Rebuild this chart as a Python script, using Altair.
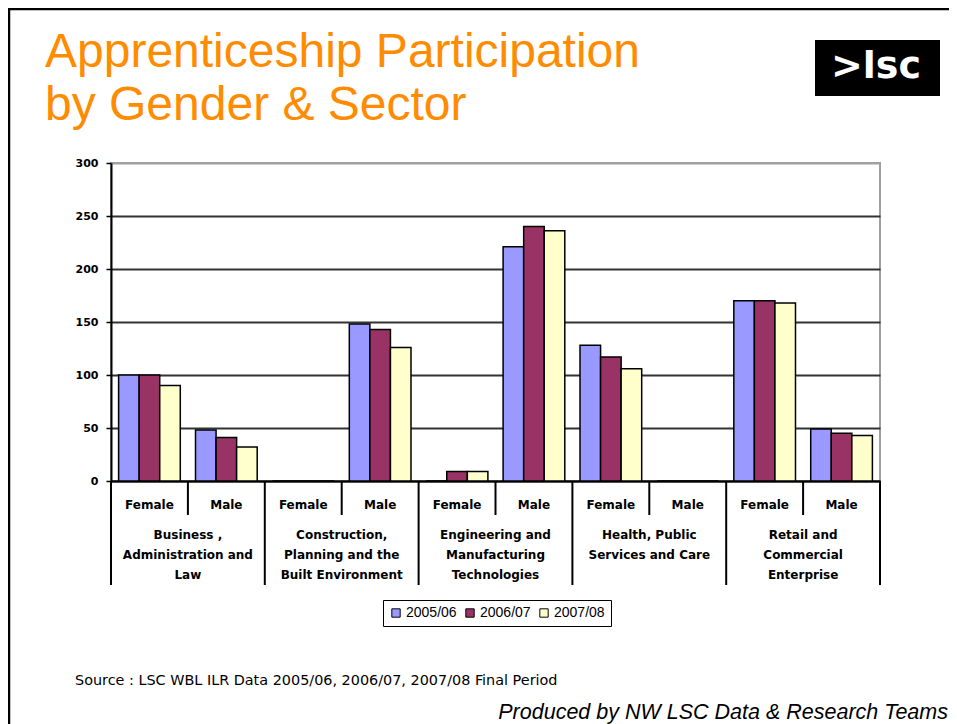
import altair as alt
import pandas as pd

# ---- data ----
sectors = ["Business", "Construction", "Engineering", "Health", "Retail"]
sector_labels = [
    "Business ,\nAdministration and\nLaw",
    "Construction,\nPlanning and the\nBuilt Environment",
    "Engineering and\nManufacturing\nTechnologies",
    "Health, Public\nServices and Care",
    "Retail and\nCommercial\nEnterprise",
]
genders = ["Female", "Male"]
years = ["2005/06", "2006/07", "2007/08"]
colors = ["#9999FF", "#993366", "#FFFFCC"]

# values per slot (sector x gender, in order)
v_2005_06 = [100, 48, 0, 148, 0, 221, 128, 0, 170, 49]
v_2006_07 = [100, 41, 0, 143, 9, 240, 117, 0, 170, 45]
v_2007_08 = [90, 32, 0, 126, 9, 236, 106, 0, 168, 43]

y_ticks = [0, 50, 100, 150, 200, 250, 300]

title_lines = ["Apprenticeship Participation", "by Gender & Sector"]
source_text = "Source : LSC WBL ILR Data 2005/06, 2006/07, 2007/08 Final Period"
credit_text = "Produced by NW LSC Data & Research Teams"
logo_text = ">lsc"

# ---- tables ----
slots = [f"{s}|{g}" for s in sectors for g in genders]
slot_rows = []
for s, lab in zip(sectors, sector_labels):
    for g in genders:
        slot_rows.append({"slot": f"{s}|{g}", "sector": s, "gender": g, "label": lab})
slot_df = pd.DataFrame(slot_rows)

bar_rows = []
for y, vals in zip(years, [v_2005_06, v_2006_07, v_2007_08]):
    for sl, v in zip(slots, vals):
        bar_rows.append({"slot": sl, "year": y, "value": v})
bar_df = pd.DataFrame(bar_rows)

W, H = 769, 318
x_scale = alt.Scale(domain=slots, paddingInner=0, paddingOuter=0)
x_axis = alt.Axis(labels=False, ticks=False, title=None, domainColor="black", domainWidth=2, grid=False)

bars = alt.Chart(bar_df).mark_bar(stroke="black", strokeWidth=1.5).encode(
    x=alt.X("slot:N", scale=x_scale, axis=x_axis, sort=slots),
    xOffset=alt.XOffset("year:N", scale=alt.Scale(domain=years, paddingOuter=0.37, paddingInner=0)),
    y=alt.Y(
        "value:Q",
        scale=alt.Scale(domain=[0, 300], nice=False),
        axis=alt.Axis(
            values=y_ticks,
            title=None,
            domainColor="black",
            domainWidth=2,
            tickColor="black",
            tickWidth=1.5,
            tickSize=5,
            labelPadding=8,
            labelFont="DejaVu Sans",
            labelFontWeight="bold",
            labelFontSize=11,
            labelColor="black",
            gridColor={"condition": {"test": "datum.value == 300", "value": "#A0A0A0"}, "value": "#333333"},
            gridWidth=2,
        ),
    ),
    color=alt.Color(
        "year:N",
        scale=alt.Scale(domain=years, range=colors),
        legend=alt.Legend(
            orient="none",
            legendX=272,
            legendY=437,
            direction="horizontal",
            title=None,
            strokeColor="black",
            fillColor="white",
            padding=6,
            symbolType="square",
            symbolSize=70,
            symbolStrokeColor="black",
            symbolStrokeWidth=1,
            labelFont="Liberation Sans",
            labelFontSize=14,
            labelColor="black",
            columnPadding=6,
            labelOffset=3,
        ),
    ),
)

long_rules = alt.Chart(slot_df).transform_filter(alt.datum.gender == "Female").mark_rule(
    color="black", strokeWidth=2
).encode(
    x=alt.X("slot:N", scale=x_scale, axis=x_axis, bandPosition=0, sort=slots),
    y=alt.value(H),
    y2=alt.value(422),
)
end_rule = alt.Chart(slot_df).transform_filter(alt.datum.slot == slots[-1]).mark_rule(
    color="black", strokeWidth=2
).encode(
    x=alt.X("slot:N", scale=x_scale, axis=x_axis, bandPosition=1, sort=slots),
    y=alt.value(H),
    y2=alt.value(422),
)
short_rules = alt.Chart(slot_df).transform_filter(alt.datum.gender == "Male").mark_rule(
    color="black", strokeWidth=2
).encode(
    x=alt.X("slot:N", scale=x_scale, axis=x_axis, bandPosition=0, sort=slots),
    y=alt.value(H),
    y2=alt.value(352),
)

gender_text = alt.Chart(slot_df).mark_text(
    font="DejaVu Sans", fontWeight="bold", fontSize=12, color="black", baseline="middle", align="center"
).encode(
    x=alt.X("slot:N", scale=x_scale, axis=x_axis, bandPosition=0.5, sort=slots),
    y=alt.value(342),
    text="gender:N",
)

sector_text = alt.Chart(slot_df).transform_filter(alt.datum.gender == "Male").mark_text(
    font="DejaVu Sans", fontWeight="bold", fontSize=12, color="black", baseline="top", align="center",
    lineBreak="\n", lineHeight=20,
).encode(
    x=alt.X("slot:N", scale=x_scale, axis=x_axis, bandPosition=0, sort=slots),
    y=alt.value(367),
    text="label:N",
)


def deco_text(txt, x, y, **kw):
    return alt.Chart(pd.DataFrame({"t": [txt]})).mark_text(**kw).encode(
        text="t:N", x=alt.value(x), y=alt.value(y)
    )


title1 = deco_text(title_lines[0], -66, -96, font="Liberation Sans", fontSize=48, color="#FF8C00",
                   align="left", baseline="alphabetic")
title2 = deco_text(title_lines[1], -66, -43, font="Liberation Sans", fontSize=48, color="#FF8C00",
                   align="left", baseline="alphabetic")

logo_box = alt.Chart(pd.DataFrame({"t": [logo_text]})).mark_rect(color="black").encode(
    x=alt.value(704), x2=alt.value(829), y=alt.value(-123), y2=alt.value(-67)
)
logo = deco_text(logo_text, 765, -85, font="DejaVu Sans", fontWeight="bold", fontSize=38, color="white",
                 align="center", baseline="alphabetic")

source = deco_text(source_text, -36, 522, font="DejaVu Sans", fontSize=14.4, color="black",
                   align="left", baseline="alphabetic")
credit = deco_text(credit_text, 837, 556, font="Liberation Sans", fontStyle="italic", fontSize=21.5,
                   color="black", align="right", baseline="alphabetic")

border_top = alt.Chart(pd.DataFrame({"t": [0]})).mark_rule(color="black", strokeWidth=2.5).encode(
    x=alt.value(-103), x2=alt.value(840), y=alt.value(-154)
)
border_left = alt.Chart(pd.DataFrame({"t": [0]})).mark_rule(color="black", strokeWidth=2.5).encode(
    x=alt.value(-102), y=alt.value(-155), y2=alt.value(570)
)

chart = alt.layer(
    bars, long_rules, end_rule, short_rules, gender_text, sector_text,
    title1, title2, logo_box, logo, source, credit, border_top, border_left,
).properties(
    width=W,
    height=H,
    padding={"left": 103, "top": 155, "right": 69, "bottom": 243},
    autosize=alt.AutoSizeParams(type="none"),
    background="white",
).configure_view(
    stroke="#A0A0A0", strokeWidth=2
)

chart.save("out.html", embed_options={"renderer": "svg", "actions": False})
